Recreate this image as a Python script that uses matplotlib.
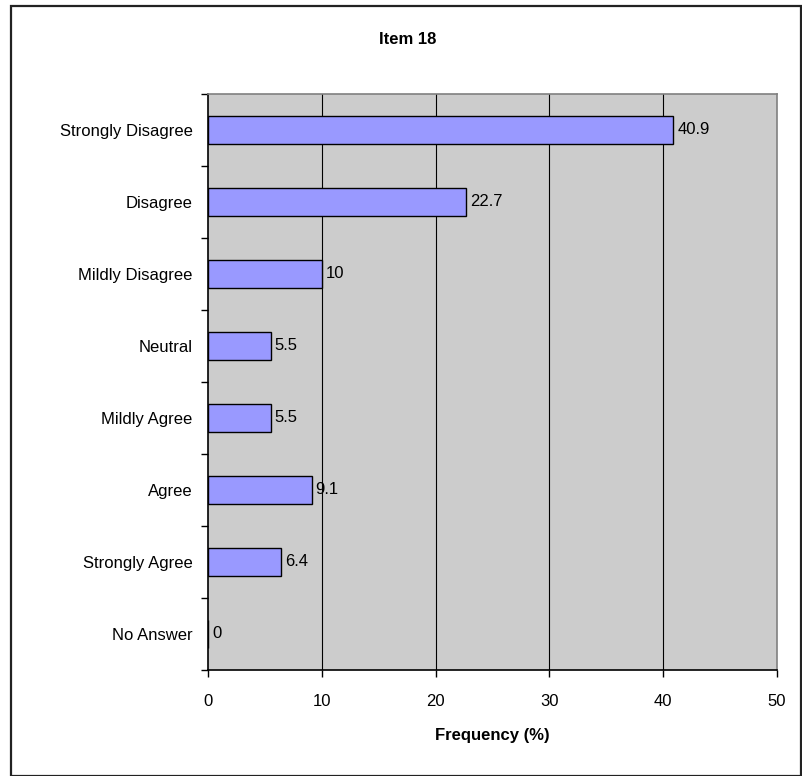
import matplotlib
matplotlib.use("Agg")
import matplotlib.pyplot as plt
from matplotlib.patches import Rectangle

plt.rcParams['font.family'] = ['Liberation Sans', 'DejaVu Sans']

categories = ["Strongly Disagree", "Disagree", "Mildly Disagree", "Neutral",
              "Mildly Agree", "Agree", "Strongly Agree", "No Answer"]
values = [40.9, 22.7, 10, 5.5, 5.5, 9.1, 6.4, 0]
value_labels = ["40.9", "22.7", "10", "5.5", "5.5", "9.1", "6.4", "0"]
x_ticks = [0, 10, 20, 30, 40, 50]

W, H = 802, 776
fig = plt.figure(figsize=(W / 100, H / 100), dpi=100)

# outer chart frame
fig.patches.append(Rectangle((11 / W, 0.0), (W - 12) / W, (H - 6) / H,
                             transform=fig.transFigure, fill=False,
                             edgecolor="#222222", linewidth=1.6, zorder=0))

left, right, top, bottom = 208, 777, 94, 670
ax = fig.add_axes([left / W, 1 - bottom / H, (right - left) / W, (bottom - top) / H])
ax.set_facecolor("#CCCCCC")

n = len(categories)
ypos = list(range(n))
ax.barh(ypos, values, height=0.4, color="#9999FF", edgecolor="black",
        linewidth=1.0, zorder=3)
for y, v, lab in zip(ypos, values, value_labels):
    ax.text(v + 0.35, y, lab, va="center", ha="left", fontsize=12, zorder=4)

ax.set_xlim(0, 50)
ax.set_ylim(n - 0.5, -0.5)
ax.set_xticks(x_ticks)
ax.set_xticklabels([str(t) for t in x_ticks], fontsize=12)
ax.set_yticks(ypos)
ax.set_yticklabels(categories, fontsize=12)
ax.tick_params(axis="y", which="major", length=0, pad=11)
ax.set_yticks([i - 0.5 for i in range(n + 1)], minor=True)
ax.tick_params(axis="y", which="minor", length=5, width=1, color="black")
ax.tick_params(axis="x", length=5, width=1, color="black", pad=12)

for t in x_ticks[1:-1]:
    ax.axvline(t, color="black", linewidth=0.8, zorder=1)

for s in ("top", "right"):
    ax.spines[s].set_color("#808080")
    ax.spines[s].set_linewidth(1.2)
for s in ("left", "bottom"):
    ax.spines[s].set_color("black")
    ax.spines[s].set_linewidth(1.2)

ax.set_xlabel("Frequency (%)", fontsize=12, fontweight="bold", labelpad=14)
fig.text(408 / W, 1 - 40 / H, "Item 18", ha="center",
         va="center", fontsize=12, fontweight="bold")

fig.savefig("out.png", dpi=100)
